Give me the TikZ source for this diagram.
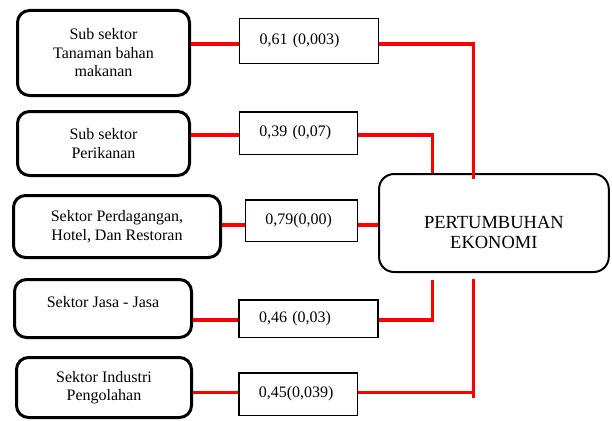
\documentclass[tikz,border=0pt]{standalone}
\usepackage{fontspec}
\setmainfont{Liberation Serif}
\newfontfamily\tnr{Liberation Serif}
\begin{document}
\begin{tikzpicture}[x=1pt, y=-1pt,
   sektor/.style={draw, line width=3pt, rounded corners=12pt, align=center, font={\tnr\fontsize{16}{18.5}\selectfont}},
   koef/.style={draw, line width=1.5pt, inner xsep=20pt, align=left, font={\tnr\fontsize{16}{18.5}\selectfont}},
   hasil/.style={draw, line width=2pt, rounded corners=15pt, align=center, font={\tnr\fontsize{18.5}{20}\selectfont}},
   hubung/.style={draw=red, line width=3.2pt}]

\useasboundingbox (0,0) rectangle (612,420);

\node[sektor, minimum width=172pt, minimum height=85pt] (s1) at (103.5,53) {Sub sektor\\Tanaman bahan\\makanan};
\node[sektor, minimum width=172pt, minimum height=64pt] (s2) at (103.5,143.5) {Sub sektor\\Perikanan};
\node[sektor, minimum width=207pt, minimum height=62pt] (s3) at (117,226.5) {Sektor Perdagangan,\\Hotel, Dan Restoran};
\node[sektor, minimum width=177pt, minimum height=58pt] (s4) at (103,308.5) {\raisebox{6.5pt}[\height][\depth]{Sektor Jasa - Jasa}};
\node[sektor, minimum width=175pt, minimum height=60pt] (s5) at (104,387.5) {Sektor Industri\\Pengolahan};

\node[koef, text width=99pt, minimum height=44.5pt] (k1) at (309,41) {0,61 (0,003)};
\node[koef, text width=78pt, minimum height=42.5pt] (k2) at (298.3,133) {0,39 (0,07)};
\node[koef, text width=72pt, minimum height=41.5pt] (k3) at (301.3,220.5) {0,79(0,00)};
\node[koef, text width=99pt, minimum height=37.5pt] (k4) at (308.5,318.5) {0,46 (0,03)};
\node[koef, text width=78.5pt, minimum height=42.5pt] (k5) at (298,394) {0,45(0,039)};

\node[hasil, minimum width=229.7pt, minimum height=98pt] (pe) at (493.9,223)
   {\raisebox{-11pt}[\height][\depth]{\begin{tabular}{@{}c@{}}PERTUMBUHAN\\EKONOMI\end{tabular}}};

% titik belok garis merah
\coordinate (j1) at (473.7,44);
\coordinate (j2) at (432.3,135);
\coordinate (r3) at (0,225);
\coordinate (j4) at (432.3,320);
\coordinate (u4) at (432.3,280);
\coordinate (j5) at (473.7,392.7);
\coordinate (b5) at (473.7,398.3);
\coordinate (u5) at (473.7,279);

\draw[hubung] (s1.east |- j1) -- (k1.west |- j1);
\draw[hubung] (k1.east |- j1) -- (j1) -- (j1 |- pe.north) -- ++(0,6);
\draw[hubung] (s2.east |- j2) -- (k2.west |- j2);
\draw[hubung] (k2.east |- j2) -- (j2) -- (j2 |- pe.north);
\draw[hubung] (s3.east |- r3) -- (k3.west |- r3) (k3.east |- r3) -- (pe.west |- r3);
\draw[hubung] (s4.east |- j4) -- (k4.west |- j4);
\draw[hubung] (k4.east |- j4) -- (j4) -- (u4);
\draw[hubung] (s5.east |- j5) -- (k5.west |- j5);
\draw[hubung] (k5.east |- j5) -- (j5) (b5) -- (u5);

\end{tikzpicture}
\end{document}
